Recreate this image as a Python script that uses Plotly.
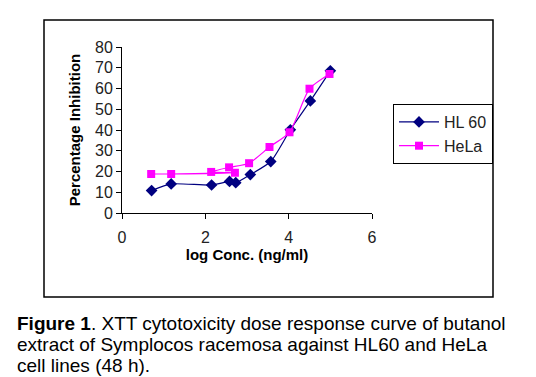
import plotly.graph_objects as go

# ---- data ----
hl60_x = [0.71, 1.18, 2.15, 2.58, 2.73, 3.08, 3.57, 4.04, 4.52, 5.00]
hl60_y = [10.8, 14.0, 13.5, 15.2, 14.6, 18.5, 24.8, 40.1, 54.0, 68.5]

hela_x = [0.70, 1.18, 2.71, 2.14, 2.57, 3.05, 3.54, 4.02, 4.50, 4.98]
hela_y = [18.8, 18.8, 19.4, 19.8, 22.0, 24.0, 31.8, 38.9, 59.9, 67.0]

series_names = ["HL 60", "HeLa"]
x_ticks = [0, 2, 4, 6]
y_ticks = [0, 10, 20, 30, 40, 50, 60, 70, 80]
x_title = "log Conc. (ng/ml)"
y_title = "Percentage Inhibition"
caption_lines = [
    "<b>Figure 1</b>. XTT cytotoxicity dose response curve of butanol",
    "extract of Symplocos racemosa against HL60 and HeLa",
    "cell lines (48 h).",
]

# ---- layout geometry (page pixels; the page body adds an 8px offset) ----
OFF = 8
W, H = 536 - OFF, 377 - OFF
L, R, T, B = 122 - OFF, 372 - OFF, 47 - OFF, 213 - OFF


def px(x):
    return (x - OFF - L) / (R - L)


def py(y):
    return (B - (y - OFF)) / (B - T)


FONT = "Liberation Sans, Arial, sans-serif"

fig = go.Figure()
fig.add_trace(go.Scatter(
    x=hl60_x, y=hl60_y, name=series_names[0], mode="lines+markers",
    line=dict(color="#000080", width=1.2, shape="spline", smoothing=0.6),
    marker=dict(symbol="diamond", size=9, color="#000080"),
))
fig.add_trace(go.Scatter(
    x=hela_x, y=hela_y, name=series_names[1], mode="lines+markers",
    line=dict(color="#FF00FF", width=1.2, shape="spline", smoothing=0.6),
    marker=dict(symbol="square", size=8, color="#FF00FF"),
))

axis_common = dict(
    showgrid=False, zeroline=False, showline=True, linecolor="black", linewidth=1,
    ticks="outside", ticklen=5, tickcolor="black",
    tickfont=dict(family=FONT, size=16, color="#222"),
)

fig.update_xaxes(range=[0, 6], tickvals=x_ticks, ticklabelstandoff=5,
                 title=dict(text="<b>" + x_title + "</b>", font=dict(family=FONT, size=15, color="black"), standoff=2),
                 **axis_common)
fig.update_yaxes(range=[0, 80], tickvals=y_ticks,
                 title=dict(text="<b>" + y_title + "</b>", font=dict(family=FONT, size=15, color="black"), standoff=10),
                 **axis_common)

annotations = []
cap_y = [323, 344, 365]
for line, yy in zip(caption_lines, cap_y):
    annotations.append(dict(
        text=line, xref="paper", yref="paper", x=px(15), y=py(yy),
        xanchor="left", yanchor="middle", showarrow=False,
        font=dict(family=FONT, size=19, color="black"), align="left",
    ))

fig.update_layout(
    width=W, height=H, autosize=False,
    margin=dict(l=L, r=W - R, t=T, b=H - B, pad=0),
    paper_bgcolor="white", plot_bgcolor="white",
    font=dict(family=FONT, color="black"),
    legend=dict(x=px(393), y=py(104), xanchor="left", yanchor="top",
                bordercolor="black", borderwidth=1, bgcolor="white",
                font=dict(family=FONT, size=16, color="#222"),
                itemwidth=40, tracegroupgap=0),
    shapes=[dict(type="rect", xref="paper", yref="paper",
                 x0=px(44), x1=px(493), y0=py(297), y1=py(20),
                 line=dict(color="black", width=1.5), layer="below")],
    annotations=annotations,
)

fig.write_html("out.html")
